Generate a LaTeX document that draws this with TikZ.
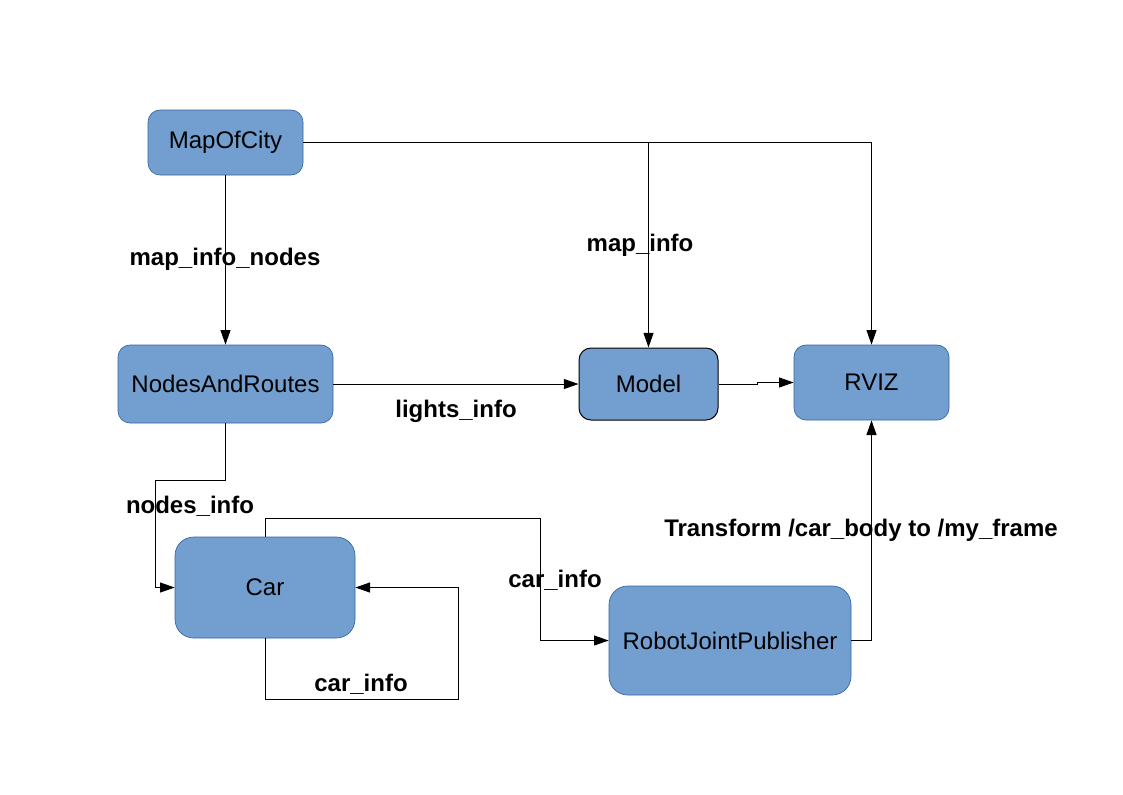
\documentclass[tikz,border=0pt]{standalone}
\usepackage{fontspec}
\setmainfont{Liberation Sans}
\usetikzlibrary{arrows.meta}
\definecolor{boxfill}{HTML}{729FCF}
\definecolor{boxline}{HTML}{3465A4}
\begin{document}
\begin{tikzpicture}[x=0.75pt,y=-0.75pt,
  box/.style={rectangle,rounded corners=9pt,fill=boxfill,draw=boxline,line width=0.5pt,inner sep=0pt,font=\fontsize{18}{20}\selectfont},
  bigbox/.style={box,rounded corners=14pt},
  conn/.style={line width=0.75pt,draw=black},
  arr/.style={conn,-{Triangle[length=11pt,width=7.5pt]}},
  lbl/.style={font=\fontsize{18}{20}\selectfont\bfseries,inner sep=0pt}]
\useasboundingbox (0,0) rectangle (1123,794);
\node[box,minimum width=116.25pt,minimum height=48.75pt] (map) at (225.5,142.5) {MapOfCity};
\node[box,minimum width=161.25pt,minimum height=58.5pt] (nar) at (225.5,384) {NodesAndRoutes};
\node[box,draw=black,line width=0.75pt,minimum width=104.25pt,minimum height=54pt] (model) at (648.5,384) {Model};
\node[box,minimum width=116.25pt,minimum height=56.25pt] (rviz) at (871.5,382.5) {RVIZ};
\node[bigbox,minimum width=135pt,minimum height=75.75pt] (car) at (265,587.5) {Car};
\node[bigbox,minimum width=181.5pt,minimum height=81.75pt] (rjp) at (730,640.5) {RobotJointPublisher};

\coordinate (n1) at (155,480);
\coordinate (c1) at (540,518);
\coordinate (c2) at (458,699);

\draw[arr] (map.south) -- (nar.north);
\draw[arr] (map.east) -| (rviz.north);
\draw[arr] (model.north |- map.east) -- (model.north);
\draw[arr] (nar.east) -- (model.west);
\draw[arr] (model.east) -- ++(39,0) |- (rviz.west);
\draw[arr] (nar.south) |- (n1) |- (car.west);
\draw[arr] (car.north) |- (c1) |- (rjp.west);
\draw[arr] (car.south) |- (c2) |- (car.east);
\draw[arr] (rjp.east) -| (rviz.south);

\node[lbl] (l1) at (225,259) {map\_info\_nodes};
\node[lbl] (l2) at (640,245) {map\_info};
\node[lbl] (l3) at (456,411) {lights\_info};
\node[lbl] (l4) at (190,506) {nodes\_info};
\node[lbl] (l5) at (555,580) {car\_info};
\node[lbl] (l6) at (361,684) {car\_info};
\node[lbl] (l7) at (861,530) {Transform /car\_body to /my\_frame};
\end{tikzpicture}
\end{document}
